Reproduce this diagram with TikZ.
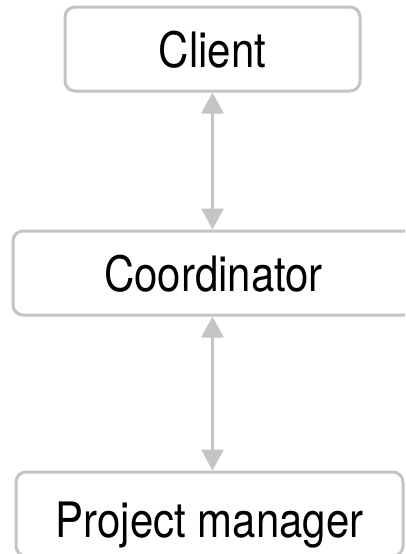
\documentclass[tikz,border=0pt]{standalone}
\usepackage{fontspec}
\setmainfont{TeX Gyre Heros}[FakeStretch=0.86]
\usetikzlibrary{arrows.meta}
\usetikzlibrary{positioning}

\definecolor{edgegray}{HTML}{C4C4C4}

\begin{document}
\begin{tikzpicture}[x=0.75pt, y=-0.75pt,
  role/.style={draw=edgegray, line width=2.25pt, rounded corners=7.5pt, inner sep=0pt,
    minimum height=63pt, text height=27.75pt, text depth=0pt,
    font=\fontsize{36.6pt}{40pt}\selectfont},
  link/.style={draw=edgegray, line width=2.25pt,
    {Triangle[width=16.5pt,length=15.75pt]}-{Triangle[width=16.5pt,length=15.75pt]}}]

\useasboundingbox (0,0) rectangle (405,554);
\clip (0,0) rectangle (405,554);

% boxes
\node[role, minimum width=221.25pt] (client) at (212.5,49) {Client};
\node[role, minimum width=300.75pt] (coord) at (213.5,273) {Coordinator};
\node[role, minimum width=290.25pt, text height=35.25pt] (pm) at (209.5,514) {Project manager};

% links
\draw[link] (client.south) -- (client.south |- coord.north);
\draw[link] (coord.south -| client.south) -- (client.south |- pm.north);
\end{tikzpicture}
\end{document}
